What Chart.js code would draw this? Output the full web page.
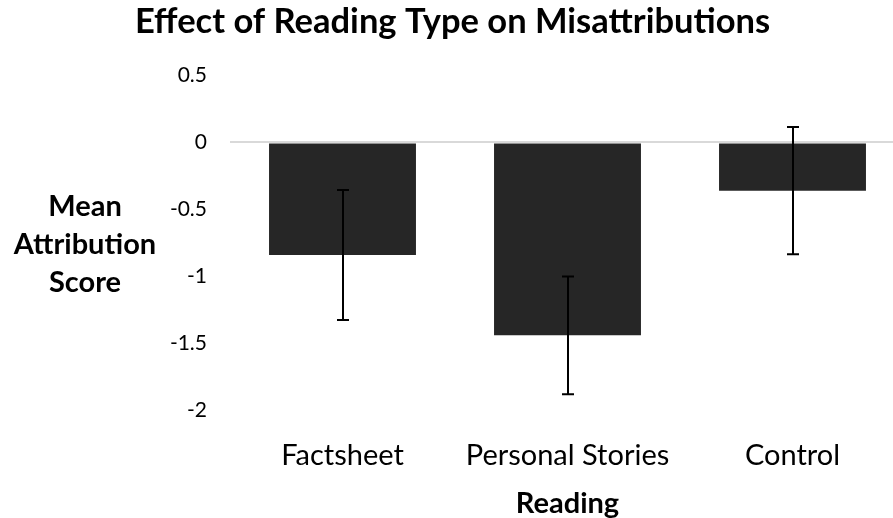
<!DOCTYPE html>
<html>
<head>
<meta charset="utf-8">
<script src="https://cdn.jsdelivr.net/npm/chart.js@4"></script>
<style>
  html, body { margin: 0; padding: 0; background: #fff; overflow: hidden; }
  #wrap { width: 905px; height: 521px; position: relative; }
</style>
</head>
<body>
<div id="wrap"><canvas id="chart"></canvas></div>
<script>
// --- Data ---
const categories = ['Factsheet', 'Personal Stories', 'Control'];
const meanScores = [-0.84, -1.44, -0.36];
const errorSizes = [0.485, 0.44, 0.475];
const yTicks = [0.5, 0, -0.5, -1, -1.5, -2];

const FONT = 'Lato, "Open Sans", sans-serif';

// Error bars drawn through the chart's own scales
const errorBarPlugin = {
  id: 'errorBars',
  afterDatasetsDraw(chart) {
    const { ctx, scales } = chart;
    const meta = chart.getDatasetMeta(0);
    ctx.save();
    ctx.strokeStyle = '#000';
    ctx.lineWidth = 2;
    meta.data.forEach((bar, i) => {
      const x = Math.round(bar.x);
      const yTop = scales.y.getPixelForValue(meanScores[i] + errorSizes[i]);
      const yBot = scales.y.getPixelForValue(meanScores[i] - errorSizes[i]);
      const cap = 6;
      ctx.beginPath();
      ctx.moveTo(x, yTop); ctx.lineTo(x, yBot);
      ctx.moveTo(x - cap, yTop); ctx.lineTo(x + cap, yTop);
      ctx.moveTo(x - cap, yBot); ctx.lineTo(x + cap, yBot);
      ctx.stroke();
    });
    ctx.restore();
  }
};

// Horizontal, three-line y-axis title
const yTitlePlugin = {
  id: 'yTitle',
  afterDraw(chart) {
    const { ctx, chartArea } = chart;
    const lines = ['Mean', 'Attribution', 'Score'];
    const midY = (chartArea.top + chartArea.bottom) / 2;
    ctx.save();
    ctx.fillStyle = '#000';
    ctx.font = 'bold 29px ' + FONT;
    ctx.textAlign = 'center';
    ctx.textBaseline = 'middle';
    lines.forEach((t, i) => {
      ctx.fillText(t, 85, midY + 2 + (i - 1) * 38);
    });
    ctx.restore();
  }
};

new Chart(document.getElementById('chart'), {
  type: 'bar',
  data: {
    labels: categories,
    datasets: [{
      data: meanScores,
      backgroundColor: '#262626',
      categoryPercentage: 1,
      barPercentage: 0.653,
    }],
  },
  options: {
    responsive: true,
    maintainAspectRatio: false,
    animation: false,
    layout: { padding: { left: 0, right: 0, top: 0, bottom: 0 } },
    plugins: {
      legend: { display: false },
      tooltip: { enabled: false },
      title: {
        display: true,
        text: 'Effect of Reading Type on Misattributions',
        color: '#000',
        font: { family: FONT, size: 34.5, weight: 'bold' },
        padding: { top: 1, bottom: 33 },
      },
    },
    scales: {
      x: {
        grid: { display: false },
        border: { display: false },
        ticks: {
          color: '#000',
          font: { family: FONT, size: 29 },
          padding: 20,
        },
        title: {
          display: true,
          text: 'Reading',
          color: '#000',
          font: { family: FONT, size: 29, weight: 'bold' },
          padding: { top: -7, bottom: 0 },
        },
      },
      y: {
        min: -2,
        max: 0.5,
        afterBuildTicks: (scale) => { scale.ticks = yTicks.map((v) => ({ value: v })); },
        afterFit: (scale) => { scale.width = 230; },
        border: { display: false },
        grid: {
          drawTicks: false,
          color: (c) => (c.tick && c.tick.value === 0 ? '#d9d9d9' : 'rgba(0,0,0,0)'),
          lineWidth: 2,
        },
        ticks: {
          color: '#000',
          font: { family: FONT, size: 21 },
          padding: 23,
          callback: (v) => String(v),
        },
      },
    },
  },
  plugins: [errorBarPlugin, yTitlePlugin],
});
</script>
</body>
</html>
